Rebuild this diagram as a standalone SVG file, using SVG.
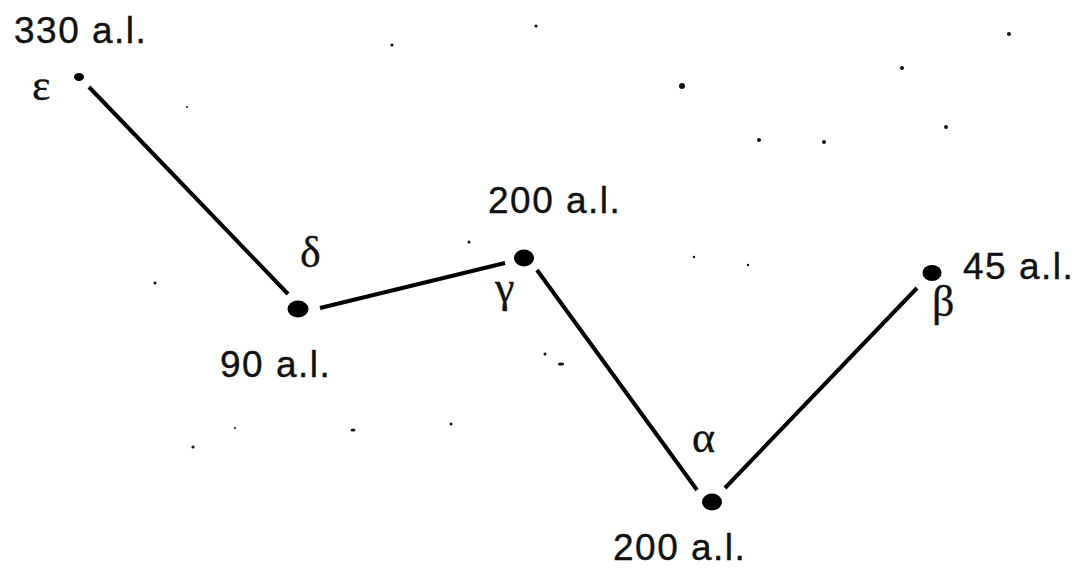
<svg xmlns="http://www.w3.org/2000/svg" width="1080" height="571" viewBox="0 0 1080 571">
<style>
.dist{font-family:"Liberation Sans",Arial,sans-serif;font-size:37px;letter-spacing:1.5px;fill:#111;stroke:#111;stroke-width:0.4}
.greek{font-family:"Liberation Serif","Times New Roman",serif;font-size:44px;fill:#111;stroke:#111;stroke-width:0.3}
.star{fill:#000}
.bg{fill:#111}
.conn line{stroke:#000;stroke-width:4;stroke-linecap:butt}
</style>
<rect width="1080" height="571" fill="#fff"/>
<g id="background-stars">
<circle class="bg" cx="187" cy="107" r="1"/>
<circle class="bg" cx="392" cy="45" r="1.6"/>
<circle class="bg" cx="536" cy="26" r="1.6"/>
<circle class="bg" cx="682" cy="86" r="3"/>
<circle class="bg" cx="1009" cy="34" r="2"/>
<circle class="bg" cx="902" cy="68" r="2"/>
<circle class="bg" cx="759" cy="140" r="2"/>
<circle class="bg" cx="824" cy="142" r="2"/>
<circle class="bg" cx="946" cy="127" r="2"/>
<circle class="bg" cx="155" cy="283" r="1.5"/>
<circle class="bg" cx="469" cy="242" r="1.5"/>
<circle class="bg" cx="694" cy="257" r="1.2"/>
<circle class="bg" cx="748" cy="265" r="1.2"/>
<circle class="bg" cx="545" cy="354" r="1.5"/>
<ellipse class="bg" cx="561" cy="364" rx="3" ry="1.5"/>
<circle class="bg" cx="235" cy="428" r="1"/>
<ellipse class="bg" cx="353" cy="430" rx="2.5" ry="1.6"/>
<circle class="bg" cx="451" cy="424" r="1.5"/>
<circle class="bg" cx="193" cy="447" r="1.6"/>
</g>
<g id="connectors" class="conn">
<line x1="89" y1="87" x2="288" y2="294"/>
<line x1="320" y1="308" x2="505" y2="263"/>
<line x1="537" y1="270" x2="697" y2="490"/>
<line x1="725" y1="488" x2="917" y2="288"/>
</g>
<g id="epsilon">
<ellipse class="star" cx="79" cy="77" rx="5" ry="4"/>
<text class="greek" x="32" y="100">ε</text>
<text class="dist" x="14" y="43">330 a.l.</text>
</g>
<g id="delta">
<ellipse class="star" cx="298" cy="309" rx="10.5" ry="8.5"/>
<text class="greek" x="300" y="267">δ</text>
<text class="dist" x="220" y="377">90 a.l.</text>
</g>
<g id="gamma">
<ellipse class="star" cx="524" cy="258" rx="10" ry="8.5"/>
<text class="greek" x="495" y="302">γ</text>
<text class="dist" x="488" y="213">200 a.l.</text>
</g>
<g id="alpha">
<ellipse class="star" cx="712" cy="502" rx="10" ry="8.5"/>
<text class="greek" x="692" y="452">α</text>
<text class="dist" x="613" y="560">200 a.l.</text>
</g>
<g id="beta">
<ellipse class="star" cx="932" cy="273" rx="9.5" ry="8"/>
<text class="greek" x="932" y="316">β</text>
<text class="dist" x="963" y="279">45 a.l.</text>
</g>
</svg>
